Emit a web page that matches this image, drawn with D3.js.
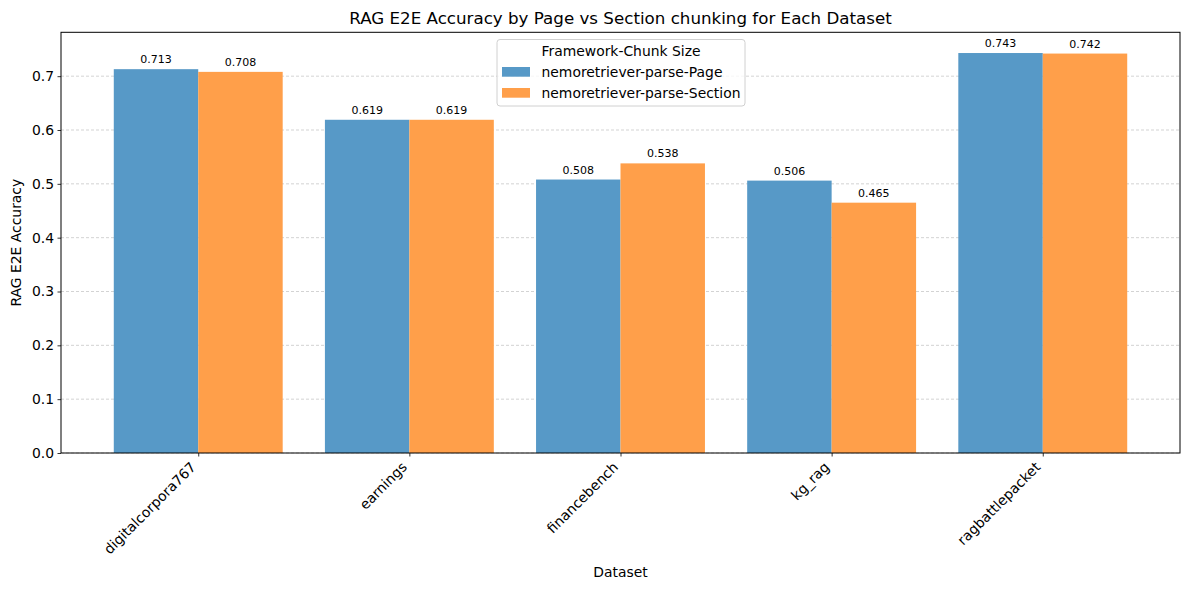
<!DOCTYPE html>
<html><head><meta charset="utf-8">
<script src="https://cdn.jsdelivr.net/npm/d3@7"></script>
<style>body{margin:0;background:#fff;} text{font-family:"DejaVu Sans",sans-serif;}</style>
</head><body>
<svg id="chart" width="1189" height="590"></svg>
<script>
const categories = ["digitalcorpora767","earnings","financebench","kg_rag","ragbattlepacket"];
const seriesNames = ["nemoretriever-parse-Page","nemoretriever-parse-Section"];
const pageValues = [0.713,0.619,0.508,0.506,0.743];
const sectionValues = [0.708,0.619,0.538,0.465,0.742];
const yTicks = [0.0,0.1,0.2,0.3,0.4,0.5,0.6,0.7];
const colors = ["#5799c7","#ff9f4a"];

const svg = d3.select("#chart");
const L=61, R=1180, T=32.3, B=453;
const x = d3.scaleLinear().domain([-0.65, categories.length-1+0.65]).range([L,R]);
const y = d3.scaleLinear().domain([0, 0.7815]).range([B,T]);
const bw = 0.4;

// grid
svg.append("g").selectAll("line").data(yTicks).join("line")
  .attr("x1",L).attr("x2",R).attr("y1",d=>y(d)).attr("y2",d=>y(d))
  .attr("stroke","#b0b0b0").attr("stroke-opacity",0.7).attr("stroke-width",0.8)
  .attr("stroke-dasharray","3,2");

const series = [pageValues, sectionValues];
series.forEach((vals,si)=>{
  const g = svg.append("g");
  g.selectAll("rect").data(vals).join("rect")
    .attr("x",(d,i)=>x(i + (si===0?-bw:0)))
    .attr("width",x(bw)-x(0))
    .attr("y",d=>y(d)).attr("height",d=>B-y(d))
    .attr("fill",colors[si]);
  g.selectAll("text").data(vals).join("text")
    .attr("x",(d,i)=>x(i + (si===0?-bw/2:bw/2)))
    .attr("y",d=>y(d)-6)
    .attr("text-anchor","middle").attr("font-size","11px").attr("fill","#000")
    .text(d=>d.toFixed(3));
});

// axes
const yAxis = d3.axisLeft(y).tickValues(yTicks).tickFormat(d3.format(".1f")).tickSize(3.5).tickPadding(3.5);
const ya = svg.append("g").attr("transform",`translate(${L},0)`).call(yAxis);
ya.select(".domain").remove();
ya.selectAll("text").attr("font-size","13.9px").attr("fill","#000").attr("font-family","DejaVu Sans");
ya.selectAll("line").attr("stroke","#000").attr("stroke-width",0.8);

const xAxis = d3.axisBottom(x).tickValues(d3.range(categories.length)).tickFormat(i=>categories[i]).tickSize(3.5);
const xa = svg.append("g").attr("transform",`translate(0,${B})`).call(xAxis);
xa.select(".domain").remove();
xa.selectAll("line").attr("stroke","#000").attr("stroke-width",0.8);
xa.selectAll("text").attr("font-size","13.9px").attr("fill","#000").attr("font-family","DejaVu Sans")
  .attr("text-anchor","end").attr("dy",null).attr("y",0)
  .attr("transform","translate(-2,15) rotate(-45)");

svg.append("rect").attr("x",L).attr("y",T).attr("width",R-L).attr("height",B-T)
  .attr("fill","none").attr("stroke","#000").attr("stroke-width",1);

// titles
svg.append("text").attr("x",(L+R)/2).attr("y",24).attr("text-anchor","middle")
  .attr("font-size","16.7px").text("RAG E2E Accuracy by Page vs Section chunking for Each Dataset");
svg.append("text").attr("x",(L+R)/2).attr("y",577).attr("text-anchor","middle")
  .attr("font-size","13.9px").text("Dataset");
svg.append("text").attr("transform",`translate(21,${(T+B)/2}) rotate(-90)`).attr("text-anchor","middle")
  .attr("font-size","13.9px").text("RAG E2E Accuracy");

// legend
const lg = svg.append("g");
lg.append("rect").attr("x",497).attr("y",39.5).attr("width",248).attr("height",66.5).attr("rx",3)
  .attr("fill","#fff").attr("fill-opacity",0.8).attr("stroke","#d0d0d0").attr("stroke-width",1);
lg.append("text").attr("x",621).attr("y",56).attr("text-anchor","middle").attr("font-size","13.9px").text("Framework-Chunk Size");
seriesNames.forEach((n,i)=>{
  lg.append("rect").attr("x",502).attr("y",67+i*21).attr("width",28).attr("height",9.7).attr("fill",colors[i]);
  lg.append("text").attr("x",541.5).attr("y",76.5+i*21).attr("font-size","13.9px").text(n);
});
</script>
</body></html>
